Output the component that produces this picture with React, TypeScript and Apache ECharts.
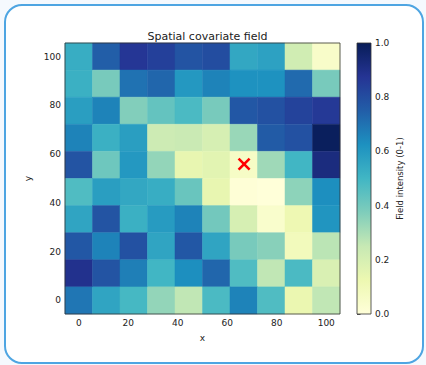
import React, { useEffect, useRef } from "react";
import * as echarts from "echarts";

const xCenters = [0, 11.11, 22.22, 33.33, 44.44, 55.56, 66.67, 77.78, 88.89, 100];
const yCenters = [100, 88.89, 77.78, 66.67, 55.56, 44.44, 33.33, 22.22, 11.11, 0];
// rows from top (y=100) to bottom (y=0), columns x=0..100
const fieldRows = [
  [0.53, 0.75, 0.87, 0.84, 0.78, 0.8, 0.55, 0.57, 0.22, 0.05],
  [0.52, 0.39, 0.7, 0.73, 0.6, 0.66, 0.62, 0.62, 0.72, 0.39],
  [0.58, 0.66, 0.37, 0.43, 0.48, 0.39, 0.77, 0.79, 0.83, 0.86],
  [0.66, 0.52, 0.58, 0.23, 0.24, 0.2, 0.33, 0.76, 0.79, 0.99],
  [0.78, 0.41, 0.6, 0.34, 0.14, 0.16, 0.06, 0.32, 0.5, 0.92],
  [0.47, 0.58, 0.55, 0.53, 0.42, 0.14, 0.01, 0.0, 0.35, 0.63],
  [0.56, 0.78, 0.52, 0.59, 0.66, 0.4, 0.2, 0.04, 0.12, 0.61],
  [0.77, 0.66, 0.79, 0.56, 0.77, 0.56, 0.39, 0.36, 0.09, 0.27],
  [0.89, 0.78, 0.67, 0.5, 0.63, 0.73, 0.47, 0.26, 0.48, 0.19],
  [0.69, 0.56, 0.49, 0.34, 0.26, 0.48, 0.66, 0.47, 0.13, 0.26],
];
const xTicks = [0, 20, 40, 60, 80, 100];
const yTicks = [0, 20, 40, 60, 80, 100];
const markerX = [66.8];
const markerY = [55.9];
const colorbarRange = [0, 1];
const ylgnbu = ["#ffffd9", "#edf8b1", "#c7e9b4", "#7fcdbb", "#41b6c4", "#1d91c0", "#225ea8", "#253494", "#081d58"];

const HALF = 5.5556;
const FONT = "DejaVu Sans";
const TXT = "#222";

export default function App() {
  const ref = useRef<HTMLDivElement>(null);
  useEffect(() => {
    if (!ref.current) return;
    const chart = echarts.init(ref.current, null, { renderer: "svg" });
    const cells: number[][] = [];
    fieldRows.forEach((row, r) => row.forEach((v, c) => cells.push([xCenters[c], yCenters[r], v])));
    const markerData = markerX.map((x, i) => [x, markerY[i]]);

    chart.setOption({
      animation: false,
      backgroundColor: "transparent",
      textStyle: { fontFamily: FONT },
      title: {
        text: "Spatial covariate field",
        left: 202.5,
        top: 26,
        textAlign: "center",
        textStyle: { fontFamily: FONT, fontSize: 11, fontWeight: "normal", color: TXT },
      },
      grid: [
        { left: 65, top: 43, width: 275, height: 271 },
        { left: 357, top: 43, width: 14, height: 271 },
      ],
      xAxis: [
        {
          gridIndex: 0,
          type: "value",
          min: -HALF,
          max: 100 + HALF,
          name: "x",
          nameLocation: "middle",
          nameGap: 19,
          nameTextStyle: { fontFamily: FONT, fontSize: 9, color: TXT },
          axisLine: { show: false },
          splitLine: { show: false },
          axisTick: { show: true, length: 3.5, customValues: xTicks, lineStyle: { color: "#333", width: 0.8 } },
          axisLabel: { customValues: xTicks, fontFamily: FONT, fontSize: 9, color: TXT, margin: 4 },
        },
        { gridIndex: 1, type: "value", min: 0, max: 1, show: false },
      ],
      yAxis: [
        {
          gridIndex: 0,
          type: "value",
          min: -HALF,
          max: 100 + HALF,
          name: "y",
          nameLocation: "middle",
          nameGap: 30,
          nameRotate: 90,
          nameTextStyle: { fontFamily: FONT, fontSize: 9, color: TXT },
          axisLine: { show: false },
          splitLine: { show: false },
          axisTick: { show: true, length: 3.5, customValues: yTicks, lineStyle: { color: "#333", width: 0.8 } },
          axisLabel: { customValues: yTicks, fontFamily: FONT, fontSize: 9, color: TXT, margin: 4 },
        },
        {
          gridIndex: 1,
          type: "value",
          position: "right",
          min: colorbarRange[0],
          max: colorbarRange[1],
          interval: 0.2,
          name: "Field intensity (0-1)",
          nameLocation: "middle",
          nameGap: 24,
          nameRotate: 90,
          nameTextStyle: { fontFamily: FONT, fontSize: 8.5, color: TXT },
          axisLine: { show: false },
          splitLine: { show: false },
          axisTick: { show: true, length: 3.5, lineStyle: { color: "#333", width: 0.8 } },
          axisLabel: { fontFamily: FONT, fontSize: 9, color: TXT, margin: 4, formatter: (v: number) => v.toFixed(1) },
        },
      ],
      visualMap: {
        show: false,
        type: "continuous",
        min: colorbarRange[0],
        max: colorbarRange[1],
        dimension: 2,
        seriesIndex: 0,
        inRange: { color: ylgnbu },
      },
      series: [
        {
          type: "custom",
          xAxisIndex: 0,
          yAxisIndex: 0,
          data: cells,
          renderItem: (params: any, api: any) => {
            const x = api.value(0);
            const y = api.value(1);
            const p1 = api.coord([x - HALF, y + HALF]);
            const p2 = api.coord([x + HALF, y - HALF]);
            const color = api.visual("color");
            return {
              type: "rect",
              shape: { x: p1[0], y: p1[1], width: p2[0] - p1[0], height: p2[1] - p1[1] },
              style: { fill: color, stroke: color, lineWidth: 0.5 },
            };
          },
        },
        {
          type: "custom",
          xAxisIndex: 0,
          yAxisIndex: 0,
          data: markerData,
          z: 10,
          renderItem: (params: any, api: any) => {
            const c = api.coord([api.value(0), api.value(1)]);
            const s = 5.5;
            return {
              type: "group",
              children: [
                { type: "line", shape: { x1: c[0] - s, y1: c[1] - s, x2: c[0] + s, y2: c[1] + s }, style: { stroke: "#ff0000", lineWidth: 2.6 } },
                { type: "line", shape: { x1: c[0] - s, y1: c[1] + s, x2: c[0] + s, y2: c[1] - s }, style: { stroke: "#ff0000", lineWidth: 2.6 } },
              ],
            };
          },
        },
        {
          type: "custom",
          xAxisIndex: 1,
          yAxisIndex: 1,
          data: [[colorbarRange[0], colorbarRange[0], colorbarRange[1], colorbarRange[1]]],
          renderItem: (params: any, api: any) => {
            const p1 = api.coord([api.value(0), api.value(3)]);
            const p2 = api.coord([api.value(2), api.value(1)]);
            const stops = ylgnbu.map((c, i) => ({ offset: i / (ylgnbu.length - 1), color: c }));
            return {
              type: "rect",
              shape: { x: p1[0], y: p1[1], width: p2[0] - p1[0], height: p2[1] - p1[1] },
              style: {
                fill: new echarts.graphic.LinearGradient(0, 1, 0, 0, stops),
                stroke: "#333",
                lineWidth: 0.8,
              },
            };
          },
        },
      ],
      graphic: [
        {
          type: "rect",
          z: 100,
          shape: { x: 65, y: 43, width: 275, height: 271 },
          style: { fill: "none", stroke: "#333", lineWidth: 0.8 },
        },
      ],
    });
    return () => chart.dispose();
  }, []);

  return (
    <div style={{ position: "fixed", left: 0, top: 0, width: 426, height: 365, background: "#f5f9fe" }}>
      <div
        style={{
          position: "absolute",
          left: 4,
          top: 4,
          width: 416,
          height: 356,
          border: "2px solid #4ea5e2",
          borderRadius: 18,
          background: "#ffffff",
        }}
      />
      <div ref={ref} style={{ position: "absolute", left: 0, top: 0, width: 426, height: 365 }} />
    </div>
  );
}
